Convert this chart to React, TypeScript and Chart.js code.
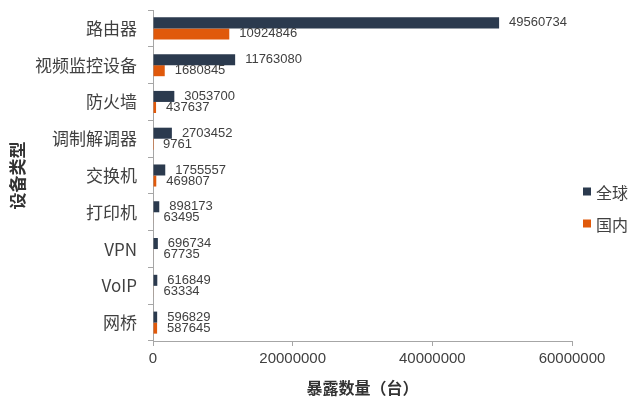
import React, { useEffect, useRef } from "react";
import { Chart, registerables } from "chart.js";
Chart.register(...registerables);

const categories = ["路由器", "视频监控设备", "防火墙", "调制解调器", "交换机", "打印机", "VPN", "VoIP", "网桥"];
const globalValues = [49560734, 11763080, 3053700, 2703452, 1755557, 898173, 696734, 616849, 596829];
const domesticValues = [10924846, 1680845, 437637, 9761, 469807, 63495, 67735, 63334, 587645];
const seriesNames = ["全球", "国内"];
const seriesColors = ["#2b3a4e", "#e0590b"];
const xMax = 60000000;
const xStep = 20000000;
const xTitle = "暴露数量（台）";
const yTitle = "设备类型";

const CJK = '"Noto Sans CJK SC", "Liberation Sans", sans-serif';
const NUM = '"Liberation Sans", "Noto Sans CJK SC", sans-serif';

const labelPlugin = {
  id: "barLabels",
  afterDatasetsDraw(chart: any) {
    const ctx = chart.ctx;
    ctx.save();
    ctx.font = `13px ${NUM}`;
    ctx.fillStyle = "#404040";
    ctx.textBaseline = "middle";
    ctx.textAlign = "left";
    chart.data.datasets.forEach((ds: any, i: number) => {
      const meta = chart.getDatasetMeta(i);
      meta.data.forEach((bar: any, j: number) => {
        ctx.fillText(String(ds.data[j]), bar.x + 10, bar.y);
      });
    });
    ctx.restore();
  },
};

const legendPlugin = {
  id: "customLegend",
  afterDraw(chart: any) {
    const ctx = chart.ctx;
    const { chartArea } = chart;
    ctx.save();
    ctx.font = `16px ${CJK}`;
    ctx.textBaseline = "middle";
    ctx.textAlign = "left";
    const x = chartArea.right + 11;
    const y0 = (chartArea.top + chartArea.bottom) / 2 + 16;
    chart.data.datasets.forEach((ds: any, i: number) => {
      const y = y0 + i * 32;
      ctx.fillStyle = ds.backgroundColor;
      ctx.fillRect(x, y - 4, 8, 8);
      ctx.fillStyle = "#404040";
      ctx.fillText(ds.label, x + 13, y + 1);
    });
    ctx.restore();
  },
};

export default function App() {
  const ref = useRef<HTMLCanvasElement>(null);
  useEffect(() => {
    if (!ref.current) return;
    const chart = new Chart(ref.current, {
      type: "bar",
      data: {
        labels: categories,
        datasets: [
          { label: seriesNames[0], data: globalValues, backgroundColor: seriesColors[0], categoryPercentage: 0.6, barPercentage: 1.0 },
          { label: seriesNames[1], data: domesticValues, backgroundColor: seriesColors[1], categoryPercentage: 0.6, barPercentage: 1.0 },
        ],
      },
      options: {
        indexAxis: "y",
        animation: false,
        responsive: false,
        layout: { padding: { top: 10, right: 68, bottom: 0, left: 0 } },
        plugins: { legend: { display: false }, tooltip: { enabled: false } },
        scales: {
          x: {
            min: 0,
            max: xMax,
            ticks: { stepSize: xStep, font: { size: 15, family: NUM }, color: "#404040", padding: 4, maxRotation: 0, callback: (v: any) => String(v) },
            grid: { drawOnChartArea: false, drawTicks: true, tickLength: 5, color: "#a6a6a6" },
            border: { display: true, color: "#a6a6a6" },
            title: { display: true, text: xTitle, font: { size: 16, weight: "bold", family: CJK }, color: "#333333", padding: { top: 0, bottom: 10 } },
            afterFit: (s: any) => { s.height = 67; },
          },
          y: {
            ticks: { font: { size: 17, family: CJK }, color: "#404040", padding: 11 },
            grid: { drawOnChartArea: false, drawTicks: true, tickLength: 5, color: "#a6a6a6", offset: true },
            border: { display: true, color: "#a6a6a6" },
            title: { display: true, text: yTitle, font: { size: 17, weight: "bold", family: CJK }, color: "#333333", padding: { top: 7, bottom: 0 } },
            afterFit: (s: any) => { s.width = 153; s.paddingTop = 0; s.paddingBottom = 0; },
          },
        },
      },
      plugins: [labelPlugin, legendPlugin],
    } as any);
    return () => chart.destroy();
  }, []);
  return (
    <div style={{ position: "fixed", left: 0, top: 0, width: 640, height: 408, background: "#fff" }}>
      <canvas ref={ref} width={640} height={408} />
    </div>
  );
}
